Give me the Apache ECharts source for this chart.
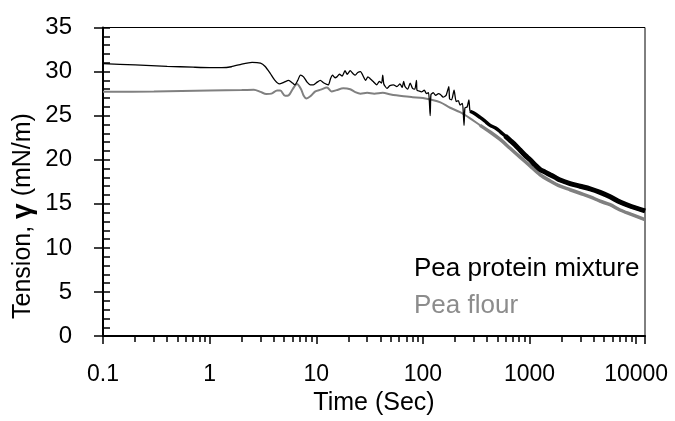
<!DOCTYPE html>
<html>
<head>
<meta charset="utf-8">
<script src="https://cdn.jsdelivr.net/npm/echarts@6/dist/echarts.min.js"></script>
<style>html,body{margin:0;padding:0;background:#fff}#c{width:675px;height:421px}</style>
</head>
<body>
<div id="c"></div>
<script>
// Pea protein mixture (black)
var timeMix = [0.1, 0.2, 0.4, 0.7, 1.0, 1.3, 1.6, 2.0, 2.5, 3.0,
  3.3, 3.7, 4.1, 4.5, 5.0, 5.5, 6.0, 6.3, 6.7, 7.1,
  7.6, 8.2, 8.8, 9.4, 10.2, 10.9, 11.8, 13.0, 13.6, 14.2,
  15.0, 15.6, 16.5, 17.5, 18.6, 19.5, 20.8, 22, 23.2, 24.5,
  26, 27.5, 29, 30.5, 32, 34, 37, 39, 41, 42,
  43, 46, 49, 53, 57, 61, 64, 66, 68, 72,
  76, 80, 84, 87, 88, 92, 97, 103, 108, 113,
  117, 119, 125, 132, 140, 146, 155, 165, 175, 178,
  186, 196, 205, 215, 223, 235, 243, 248, 260, 270,
  277, 300, 344, 380, 427, 480, 530, 590, 657, 730,
  815, 910, 1012, 1130, 1256, 1400, 1560, 1740, 1936, 2400,
  2980, 3700, 4590, 5700, 7060, 9000, 12100];
var tensionMix = [30.9, 30.75, 30.6, 30.5, 30.45, 30.45, 30.55, 30.85, 31.05, 30.95,
  30.6, 29.8, 29.0, 28.6, 28.8, 29.0, 28.7, 28.5, 29.0, 29.6,
  29.4, 28.8, 28.5, 28.5, 28.8, 29.0, 28.7, 28.5, 29.2, 29.6,
  29.3, 29.4, 29.7, 29.5, 30.1, 29.7, 30.1, 29.8, 29.6, 29.9,
  30.0, 29.5, 29.0, 29.4, 29.2, 28.9, 28.5, 28.9, 28.7, 29.6,
  28.6, 28.1, 28.4, 28.5, 28.3, 28.6, 28.2, 28.9, 28.3, 28.0,
  28.7, 28.1, 28.0, 29.0, 27.9, 27.8, 27.7, 27.9, 27.5, 27.6,
  25.0, 27.4, 27.6, 27.3, 27.5, 27.4, 27.1, 27.3, 28.3, 26.9,
  26.8, 27.9, 26.6, 26.7, 26.2, 26.4, 23.9, 25.9, 26.0, 26.8,
  25.5, 25.3, 24.8, 24.4, 23.9, 23.6, 23.2, 22.7, 22.2, 21.7,
  21.1, 20.5, 20.0, 19.4, 18.9, 18.6, 18.3, 18.0, 17.7, 17.3,
  17.0, 16.7, 16.3, 15.8, 15.2, 14.7, 14.2];

// Pea flour (gray)
var timeFlour = [0.1, 0.3, 1.0, 2.0, 2.6, 3.0, 3.4, 3.8, 4.3, 4.6,
  5.1, 5.5, 6.0, 6.6, 7.2, 7.6, 8.1, 8.8, 9.8, 11,
  12.6, 13.9, 15.5, 17.9, 20.8, 23, 26, 30, 35, 42,
  50, 66, 80, 100, 120, 146, 180, 223, 277, 344,
  427, 530, 657, 815, 1012, 1256, 1560, 1936, 2400, 2980,
  3700, 4590, 5700, 7060, 9000, 12100];
var tensionFlour = [27.7, 27.75, 27.85, 27.9, 27.95, 27.7, 27.45, 27.5, 27.85, 27.85,
  27.25, 27.3, 28.0, 28.6, 28.0, 27.3, 26.95, 27.2, 27.75, 27.95,
  28.2, 27.75, 27.9, 28.1, 28.0, 27.7, 27.5, 27.6, 27.5, 27.6,
  27.4, 27.2, 27.1, 27.0, 26.8, 26.5, 25.9, 25.4, 24.7, 23.9,
  23.15, 22.3, 21.3, 20.3, 19.3, 18.3, 17.6, 17.0, 16.6, 16.2,
  15.8, 15.3, 14.9, 14.3, 13.8, 13.2];

var seriesNames = ['Pea protein mixture', 'Pea flour'];
var yTickLabels = [0, 5, 10, 15, 20, 25, 30, 35];

function pairs(t, v, tMin) {
  var out = [];
  for (var i = 0; i < t.length; i++) if (t[i] >= (tMin || 0)) out.push([t[i], v[i]]);
  return out;
}

var chart = echarts.init(document.getElementById('c'), null, {renderer: 'canvas'});
var FONT = 'Liberation Sans, Arial, sans-serif';
var option = {
  animation: false,
  backgroundColor: '#fff',
  grid: {left: 103, right: 30, top: 27.5, bottom: 76, show: true, borderColor: '#000', borderWidth: 1, backgroundColor: 'transparent'},
  xAxis: [{
    type: 'log', logBase: 10, min: 0.1, max: 12100,
    axisLine: {show: true, onZero: false, lineStyle: {color: '#000', width: 2}},
    axisTick: {show: true, inside: false, length: 8, lineStyle: {color: '#000', width: 1.5}},
    minorTick: {show: true, splitNumber: 9, length: 6, lineStyle: {color: '#000', width: 1.5}},
    splitLine: {show: false}, minorSplitLine: {show: false},
    axisLabel: {color: '#000', fontSize: 23, fontFamily: FONT, margin: 27, showMaxLabel: false, hideOverlap: false,
      formatter: function (v) { return String(+v.toPrecision(6)); }},
    name: 'Time (Sec)', nameLocation: 'middle', nameGap: 46,
    nameTextStyle: {color: '#000', fontSize: 25, fontFamily: FONT}
  }],
  yAxis: [{
    type: 'value', min: 0, max: 35, interval: 5,
    axisLine: {show: true, lineStyle: {color: '#000', width: 2}},
    axisTick: {show: true, inside: true, length: 7, lineStyle: {color: '#000', width: 1.5}},
    minorTick: {show: true, splitNumber: 5, length: 7, lineStyle: {color: '#000', width: 1.5}},
    splitLine: {show: false},
    axisLabel: {color: '#000', fontSize: 24, fontFamily: FONT, margin: 31,
      formatter: function (v) { return yTickLabels.indexOf(v) >= 0 ? String(v) : ''; }}
  }, {
    type: 'value', min: 0, max: 35, interval: 5, position: 'left',
    axisLine: {show: false},
    axisTick: {show: true, inside: false, length: 9, lineStyle: {color: '#000', width: 1.5}},
    splitLine: {show: false}, axisLabel: {show: false}
  }],
  series: [
    {name: seriesNames[1], type: 'line', data: pairs(timeFlour, tensionFlour), showSymbol: false, smooth: 0.3,
      lineStyle: {color: '#808080', width: 2}, z: 2},
    {name: seriesNames[1] + ' late', type: 'line', data: pairs(timeFlour, tensionFlour, 300), showSymbol: false, smooth: 0.3,
      lineStyle: {color: '#808080', width: 3.5}, z: 2},
    {name: seriesNames[0], type: 'line', data: pairs(timeMix, tensionMix), showSymbol: false, smooth: 0.2,
      lineStyle: {color: '#000', width: 1.3}, z: 3},
    {name: seriesNames[0] + ' mid', type: 'line', data: pairs(timeMix, tensionMix, 277), showSymbol: false, smooth: 0.3,
      lineStyle: {color: '#000', width: 3.5}, z: 3},
    {name: seriesNames[0] + ' late', type: 'line', data: pairs(timeMix, tensionMix, 590), showSymbol: false, smooth: 0.3,
      lineStyle: {color: '#000', width: 5}, z: 3}
  ],
  graphic: [
    {type: 'text', x: 23, y: 216, rotation: Math.PI / 2,
      style: {text: 'Tension, {g|γ} (mN/m)', fill: '#000', fontSize: 25, fontFamily: FONT, align: 'center', verticalAlign: 'middle',
        rich: {g: {fontSize: 28, fontWeight: 'bold', fontFamily: FONT, fill: '#000'}}}},
    {type: 'text', x: 414, y: 269,
      style: {text: seriesNames[0], fill: '#000', fontSize: 26, fontFamily: FONT, align: 'left', verticalAlign: 'middle'}},
    {type: 'text', x: 414, y: 306,
      style: {text: seriesNames[1], fill: '#8c8c8c', fontSize: 26, fontFamily: FONT, align: 'left', verticalAlign: 'middle'}}
  ]
};
chart.setOption(option);
</script>
</body>
</html>
